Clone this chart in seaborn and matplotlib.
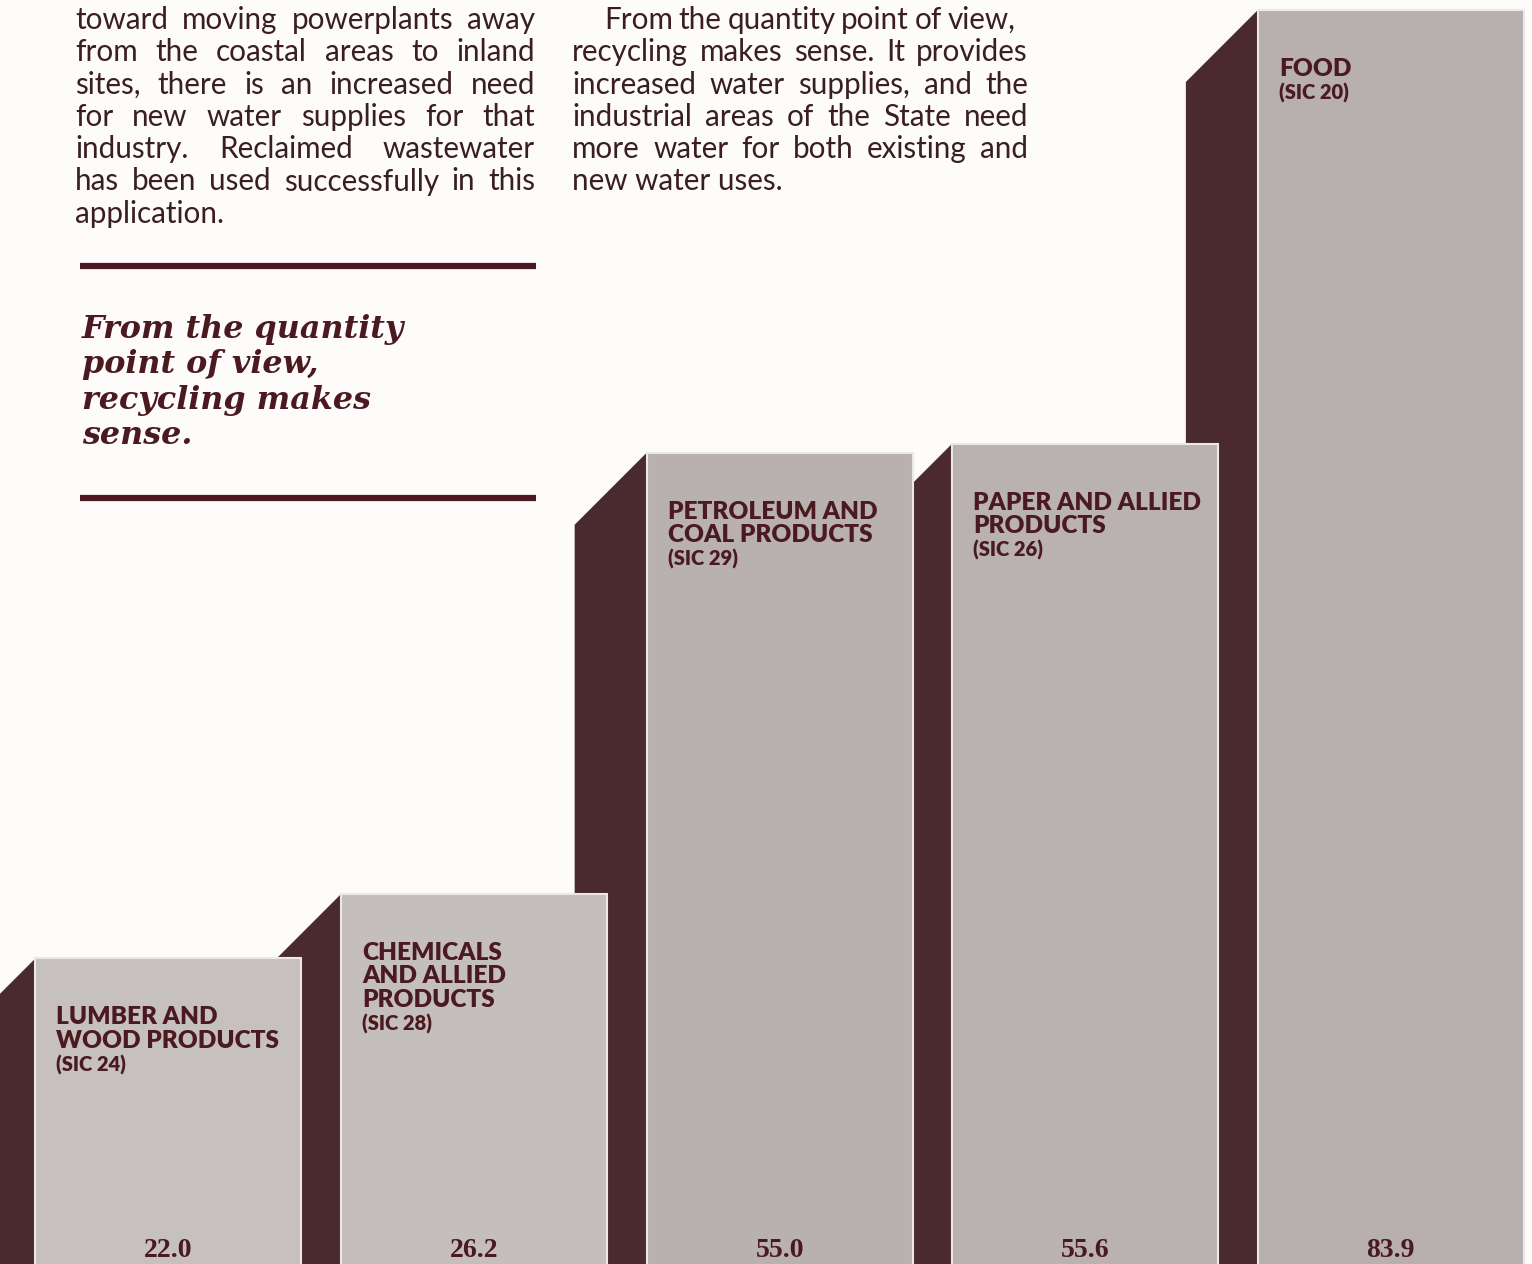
import matplotlib
matplotlib.use("Agg")
import matplotlib.pyplot as plt
import seaborn as sns
import pandas as pd
from matplotlib.patches import Polygon

# data
industries = ["LUMBER AND\nWOOD PRODUCTS", "CHEMICALS\nAND ALLIED\nPRODUCTS",
              "PETROLEUM AND\nCOAL PRODUCTS", "PAPER AND ALLIED\nPRODUCTS", "FOOD"]
sic_codes = ["(SIC 24)", "(SIC 28)", "(SIC 29)", "(SIC 26)", "(SIC 20)"]
values = [22.0, 26.2, 55.0, 55.6, 83.9]
value_labels = ["22.0", "26.2", "55.0", "55.6", "83.9"]

para_left = ["toward moving powerplants away",
             "from the coastal areas to inland",
             "sites, there is an increased need",
             "for new water supplies for that",
             "industry. Reclaimed wastewater",
             "has been used successfully in this",
             "application."]
para_right = ["From the quantity point of view,",
              "recycling makes sense. It provides",
              "increased water supplies, and the",
              "industrial areas of the State need",
              "more water for both existing and",
              "new water uses."]
pull_quote = ["From the quantity", "point of view,", "recycling makes", "sense."]

front_colors = ["#c7c0bd", "#c5bebb", "#b9b0ae", "#bab1af", "#b8afad"]
shadow_color = "#4a2a2e"
ink = "#3a1e21"
maroon = "#4a1a20"

sns.set_theme(style="white")
plt.rcParams["font.family"] = ["Lato", "DejaVu Sans"]

fig = plt.figure(figsize=(15.32, 12.64), dpi=100)
fig.patch.set_facecolor("#fdfcfb")

# bar chart fills the page, bottoms run off the lower edge
ax = fig.add_axes([0, 0, 1, 1])
ax.patch.set_alpha(0)
df = pd.DataFrame({"industry": industries, "value": values})
sns.barplot(data=df, x="industry", y="value", hue="industry", palette=front_colors,
            width=0.87, legend=False, ax=ax, edgecolor="#ece8e6", linewidth=1.5,
            zorder=3)
ax.set_xlim(-0.551, 4.462)
ax.set_ylim(2.05, 84.55)
ax.axis("off")

# dark "3D" side of each bar, 45 degree bevel to the left
depth = 72
bars = sorted(ax.patches, key=lambda p: p.get_x())
for p in bars:
    x0, top = p.get_x(), p.get_height()
    (xb, yb), (_, yt) = ax.transData.transform([(x0, 0), (x0, top)])
    pts = [(xb - depth, yb), (xb - depth, yt - depth), (xb, yt), (xb, yb)]
    ax.add_patch(Polygon(ax.transData.inverted().transform(pts),
                         closed=True, color=shadow_color, zorder=2, lw=0))

# labels on the bar faces
for p, name, sic, lab in zip(bars, industries, sic_codes, value_labels):
    x0, top = p.get_x(), p.get_height()
    lines = name.split("\n")
    for k, line in enumerate(lines):
        ax.annotate(line, xy=(x0, top), xytext=(21, -66 - 23.4 * k),
                    textcoords="offset pixels", ha="left", va="baseline",
                    fontsize=17.6, fontweight="heavy", color=maroon, zorder=4)
    ax.annotate(sic, xy=(x0, top), xytext=(21, -66 - 23.4 * len(lines)),
                textcoords="offset pixels", ha="left", va="baseline",
                fontsize=14.5, fontweight="heavy", color=maroon, zorder=4)
    ax.annotate(lab, xy=(x0 + p.get_width() / 2, 0), xycoords=("data", "axes fraction"),
                xytext=(0, 7), textcoords="offset pixels", ha="center", va="baseline",
                fontsize=20, fontweight="bold", family="Liberation Serif",
                color=maroon, zorder=4)

# page text in pixel coordinates
tx = fig.add_axes([0, 0, 1, 1], zorder=5)
tx.set_xlim(0, 1532)
tx.set_ylim(1264, 0)
tx.axis("off")
tx.patch.set_alpha(0)
renderer = fig.canvas.get_renderer()


def justify(lines, x0, x1, y0, dy, indent=0, first_right=None):
    for i, line in enumerate(lines):
        y = y0 + i * dy
        start = x0 + (indent if i == 0 else 0)
        if i == len(lines) - 1:
            tx.text(start, y, line, fontsize=21.3, color=ink, va="baseline")
            continue
        right = first_right if (i == 0 and first_right) else x1
        words = line.split()
        texts = [tx.text(0, y, w, fontsize=21.3, color=ink, va="baseline") for w in words]
        widths = [t.get_window_extent(renderer).width for t in texts]
        gap = (right - start - sum(widths)) / (len(words) - 1)
        x = start
        for t, w in zip(texts, widths):
            t.set_x(x)
            x += w + gap


justify(para_left, 75, 535, 29, 32.3)
justify(para_right, 572, 1028, 29, 32.3, indent=32, first_right=1016)

for y in (266, 498):
    tx.plot([80, 536], [y, y], color=maroon, lw=4.5, solid_capstyle="butt")

for i, line in enumerate(pull_quote):
    tx.text(82, 338 + 35.5 * i, line, fontsize=22.9, family="DejaVu Serif",
            fontweight="bold", fontstyle="italic", color=maroon, va="baseline")

plt.savefig("out.png", dpi=100, facecolor=fig.get_facecolor())
